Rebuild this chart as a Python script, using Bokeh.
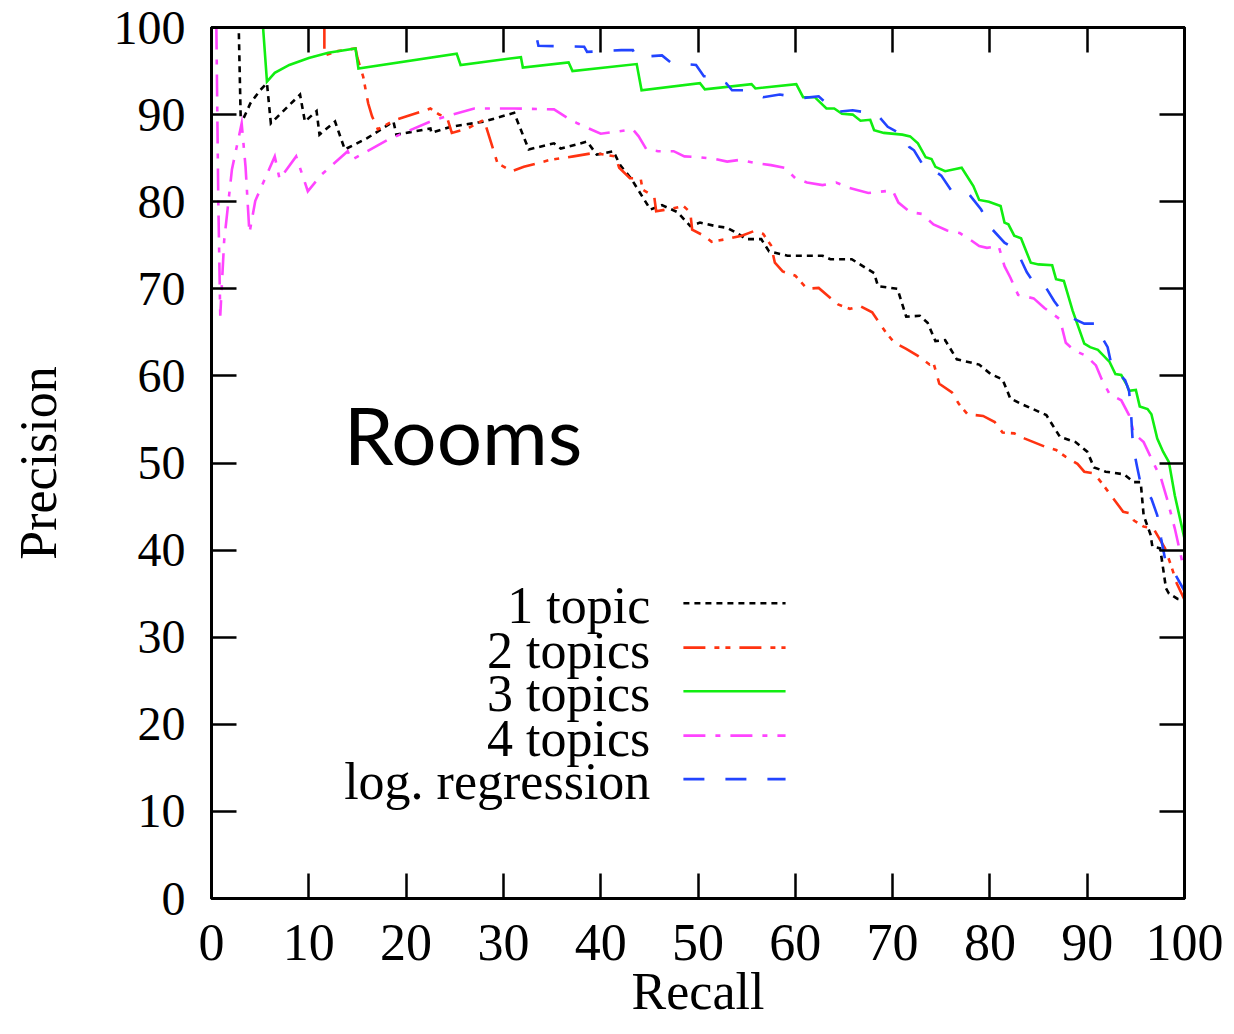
from bokeh.plotting import figure
from bokeh.models import LinearAxis, FixedTicker, Label
from bokeh.core.properties import value
from bokeh.embed import file_html
from bokeh.resources import INLINE

# ---------------- data (recall %, precision %) ----------------
one_topic = [(0, 100), (2.8, 100), (3.0, 89.6), (3.3, 89.6), (4.0, 91.3), (5.0, 92.8), (5.7, 93.6),
             (6.1, 89.0), (9.1, 92.3), (9.6, 89.2), (10.8, 90.4), (11.1, 87.7), (12.7, 89.2),
             (13.7, 86.0), (16.0, 87.3), (18.7, 89.2), (19.0, 87.7), (22.5, 88.4), (22.6, 87.9),
             (24.6, 88.6), (28.0, 89.2), (31.1, 90.2), (32.6, 86.0), (35.2, 86.7), (35.9, 86.1),
             (38.6, 86.9), (39.6, 85.4), (41.3, 85.8), (42.0, 84.2), (43.1, 82.7), (44.5, 80.2),
             (45.1, 79.1), (46.3, 79.6), (47.9, 78.8), (49.2, 77.2), (50.2, 77.6), (51.8, 77.2),
             (53.0, 77.0), (54.3, 76.2), (54.9, 75.7), (56.5, 75.7), (57.3, 74.3), (59.2, 73.8),
             (62.8, 73.8), (63.6, 73.4), (65.8, 73.4), (68.1, 71.8), (68.5, 70.3), (70.5, 70.0),
             (71.4, 66.8), (72.8, 66.9), (73.6, 66.1), (74.4, 64.0), (75.4, 64.1), (76.6, 61.9),
             (78.9, 61.3), (80.1, 60.2), (81.3, 59.6), (82.1, 57.4), (83.2, 56.8), (85.8, 55.5),
             (87.2, 53.0), (88.8, 52.4), (90.0, 51.3), (90.7, 49.5), (91.9, 49.0), (93.8, 48.7),
             (94.8, 47.8), (95.5, 47.8), (95.8, 44.0), (96.5, 41.8), (96.7, 40.4), (97.5, 40.2),
             (98.1, 35.6), (98.4, 35.0), (99.3, 34.4), (100, 34.3)]

two_topics = [(0, 100), (11.6, 100), (11.6, 96.8), (13.0, 97.3), (14.8, 97.6), (15.0, 96.5),
              (15.6, 94.3), (16.1, 91.3), (16.5, 89.8), (17.1, 88.3), (18.7, 89.3), (22.5, 90.7),
              (23.4, 90.0), (24.2, 89.7), (24.7, 87.9), (26.3, 88.4), (28.0, 89.4), (29.4, 84.4),
              (30.9, 83.5), (32.1, 84.0), (34.8, 84.8), (37.2, 85.2), (39.3, 85.6), (41.5, 85.2),
              (41.9, 83.9), (43.0, 82.7), (44.1, 82.7), (44.3, 81.4), (45.5, 80.6), (45.7, 78.9),
              (47.3, 79.2), (48.5, 79.5), (49.2, 78.8), (49.4, 76.8), (50.6, 76.1), (51.4, 75.4),
              (52.9, 75.7), (54.5, 76.1), (55.7, 76.6), (56.7, 76.3), (57.5, 75.0), (57.9, 73.0),
              (58.7, 72.0), (60.0, 71.5), (61.2, 70.0), (62.4, 70.1), (64.4, 68.2), (65.6, 67.7),
              (66.7, 68.0), (67.9, 67.3), (69.3, 65.0), (70.2, 63.8), (71.4, 63.1), (72.6, 62.3),
              (73.8, 61.3), (74.2, 61.5), (74.8, 59.1), (76.1, 58.1), (76.8, 56.8), (77.7, 55.6),
              (79.3, 55.4), (80.5, 54.7), (81.3, 53.5), (82.5, 53.4), (83.6, 52.8), (85.6, 51.9),
              (86.8, 51.5), (87.8, 50.7), (89.0, 49.9), (89.7, 49.0), (90.7, 48.8), (91.5, 47.7),
              (92.7, 45.9), (93.7, 44.4), (94.5, 44.2), (94.8, 43.4), (95.8, 42.7), (96.8, 42.5),
              (98.0, 40.2), (98.6, 38.3), (99.2, 36.2), (100, 34.3)]

three_topics = [(0, 100), (5.3, 100), (5.7, 93.8), (6.5, 94.8), (8.0, 95.7), (10.0, 96.5),
                (12.0, 97.1), (14.8, 97.6), (15.1, 95.3), (25.2, 97.0), (25.6, 95.7), (31.8, 96.6),
                (32.0, 95.4), (36.7, 96.0), (37.1, 95.0), (43.7, 95.8), (44.2, 92.8), (50.2, 93.6),
                (50.7, 92.9), (55.5, 93.5), (55.9, 93.0), (60.1, 93.5), (60.8, 92.0), (62.0, 92.0),
                (63.2, 90.7), (64.0, 90.7), (64.8, 90.1), (65.9, 90.0), (66.7, 89.3), (67.7, 89.4),
                (68.1, 88.2), (69.1, 87.9), (71.0, 87.7), (71.8, 87.5), (72.6, 86.7), (73.4, 85.1),
                (74.0, 84.9), (74.4, 84.0), (75.4, 83.5), (77.1, 83.9), (78.3, 81.8), (78.9, 80.2),
                (79.9, 80.0), (81.1, 79.5), (81.5, 77.6), (81.9, 77.4), (82.5, 76.1), (83.2, 75.8),
                (84.2, 73.0), (85.0, 72.8), (86.4, 72.7), (86.8, 71.1), (87.6, 70.9), (88.5, 67.5),
                (89.7, 63.7), (90.3, 63.3), (91.1, 63.0), (92.3, 61.6), (92.9, 60.2), (93.5, 60.1),
                (94.1, 58.9), (94.3, 58.3), (95.0, 58.4), (95.4, 56.5), (96.2, 56.2), (96.6, 55.6),
                (97.2, 52.8), (97.8, 51.3), (98.4, 50.1), (99.0, 46.3), (100, 41.3)]

four_topics = [(0.5, 100), (0.7, 80.0), (0.9, 66.9), (1.3, 75.5), (2.1, 83.7), (3.1, 89.0),
               (3.5, 84.0), (3.9, 76.4), (4.5, 80.1), (6.5, 85.2), (7.0, 82.6), (8.7, 85.2),
               (9.9, 81.2), (11.3, 83.1), (14.0, 85.8), (14.4, 84.8), (18.1, 87.1), (22.9, 89.4),
               (27.0, 90.7), (31.1, 90.7), (35.2, 90.6), (36.6, 89.6), (37.6, 89.0), (40.0, 87.8),
               (43.3, 88.3), (43.9, 87.5), (44.7, 86.0), (45.9, 85.8), (47.5, 85.8), (48.6, 85.2),
               (50.2, 85.1), (51.8, 84.9), (53.0, 84.6), (54.3, 84.8), (56.1, 84.4), (57.5, 84.2),
               (58.9, 83.9), (60.0, 82.7), (61.2, 82.2), (62.8, 81.9), (64.2, 82.2), (65.5, 81.6),
               (67.5, 81.0), (70.0, 81.3), (70.6, 79.9), (71.8, 78.8), (73.0, 78.6), (74.2, 77.4),
               (75.6, 76.7), (76.9, 76.4), (77.9, 75.7), (78.9, 74.9), (79.7, 74.7), (80.9, 74.9),
               (81.5, 72.6), (82.1, 71.3), (82.9, 69.3), (84.5, 68.9), (85.6, 67.8), (87.2, 66.5),
               (87.8, 63.8), (88.7, 62.9), (89.9, 62.3), (90.9, 61.2), (91.5, 59.6), (92.3, 57.9),
               (93.5, 57.2), (94.3, 55.5), (94.8, 53.4), (95.8, 52.4), (96.6, 50.5), (97.6, 48.2),
               (98.2, 45.9), (99.0, 42.5), (100, 37.5)]

log_regression = [(0, 100), (33.2, 100), (33.6, 97.9), (38.3, 97.8), (38.6, 97.2), (42.1, 97.4),
                  (43.3, 97.4), (43.7, 96.6), (46.3, 96.8), (47.3, 95.9), (49.8, 95.7), (50.6, 94.4),
                  (51.2, 94.4), (52.9, 93.6), (53.5, 92.8), (54.7, 92.8), (56.7, 92.0), (58.4, 92.3),
                  (60.8, 91.9), (62.4, 92.1), (64.2, 90.3), (65.9, 90.5), (68.1, 90.1), (68.5, 89.9),
                  (69.5, 88.6), (71.3, 87.5), (71.7, 86.3), (72.2, 85.9), (73.4, 83.7), (74.6, 83.3),
                  (75.0, 83.0), (76.2, 81.0), (77.9, 80.8), (79.1, 79.1), (80.1, 77.0), (81.5, 75.3),
                  (82.7, 74.5), (83.8, 71.9), (84.4, 70.9), (85.4, 70.8), (86.6, 68.6), (87.6, 67.1),
                  (89.7, 66.0), (90.9, 66.0), (91.1, 65.2), (92.1, 63.3), (92.5, 61.2), (93.9, 59.5),
                  (94.3, 58.3), (94.5, 55.8), (94.7, 52.0), (95.1, 49.7), (95.5, 47.6), (96.6, 45.9),
                  (97.2, 44.0), (97.6, 41.3), (98.0, 39.0), (99.0, 37.3), (100, 35.3)]

series_labels = ["1 topic", "2 topics", "3 topics", "4 topics", "log. regression"]
series_data = [one_topic, two_topics, three_topics, four_topics, log_regression]
tick_values = [0, 10, 20, 30, 40, 50, 60, 70, 80, 90, 100]

# ---------------- styles ----------------
colors = ["#000000", "#ff3311", "#11ee11", "#ff44ff", "#2244ff"]
dashes = ["6 5", "22 9 5 6 5 9", "solid", "22 10 5 10", "21 21"]
LW = 2.6
SERIF = "Liberation Serif"

p = figure(width=1234, height=1034, x_range=(0, 100), y_range=(0, 100),
           output_backend="svg", toolbar_location=None,
           min_border_left=211, min_border_right=50, min_border_top=27, min_border_bottom=136)
p.background_fill_color = "white"
p.border_fill_color = "white"
p.xgrid.visible = False
p.ygrid.visible = False
p.outline_line_color = "black"
p.outline_line_width = 3
p.outline_line_alpha = 1.0

def style_axis(ax, label_size):
    ax.ticker = FixedTicker(ticks=tick_values)
    ax.major_tick_in = 25
    ax.major_tick_out = 0
    ax.minor_tick_line_color = None
    ax.major_tick_line_width = 2.5
    ax.major_tick_line_color = "black"
    ax.axis_line_width = 3
    ax.axis_line_color = "black"
    ax.major_label_text_font = SERIF
    ax.major_label_text_font_size = label_size
    ax.major_label_text_color = "black" if label_size != "0px" else None
    ax.axis_label_text_font = SERIF
    ax.axis_label_text_font_style = "normal"
    ax.axis_label_text_color = "black"

style_axis(p.xaxis[0], "52px")
style_axis(p.yaxis[0], "48px")
p.xaxis[0].axis_label = "Recall"
p.xaxis[0].axis_label_text_font_size = "52px"
p.xaxis[0].major_label_standoff = 26
p.xaxis[0].axis_label_standoff = 0
p.yaxis[0].axis_label = "Precision"
p.yaxis[0].axis_label_text_font_size = "52px"
p.yaxis[0].major_label_standoff = 26
p.yaxis[0].axis_label_standoff = 44

top_ax = LinearAxis()
right_ax = LinearAxis()
style_axis(top_ax, "0px")
style_axis(right_ax, "0px")
top_ax.major_label_standoff = 0
right_ax.major_label_standoff = 0
p.add_layout(top_ax, "above")
p.add_layout(right_ax, "right")

for data, col, dash in zip(series_data, colors, dashes):
    xs = [d[0] for d in data]
    ys = [d[1] for d in data]
    p.line(xs, ys, line_color=col, line_width=LW, line_dash=dash, line_join="miter")

# ---------------- key (labels right-aligned, sample to the right) ----------------
KEY_TEXT_X = 45.1
KEY_X0 = 48.5
KEY_X1 = 59.0
KEY_Y = [33.9, 28.8, 23.8, 18.7, 13.7]
p.text(x=[KEY_TEXT_X] * len(series_labels), y=[y - 0.3 for y in KEY_Y], text=series_labels,
       text_align="right", text_baseline="middle", text_font=value(SERIF),
       text_font_size=value("52px"), text_color="black")
for y, col, dash in zip(KEY_Y, colors, dashes):
    p.line([KEY_X0, KEY_X1], [y, y], line_color=col, line_width=LW, line_dash=dash)

# ---------------- panel title ----------------
p.add_layout(Label(x=13.6, y=53.3, text="Rooms", text_font="Lato", text_font_size="80px",
                   text_color="black", text_align="left", text_baseline="alphabetic"))

open("out.html", "w").write(file_html(p, INLINE))
